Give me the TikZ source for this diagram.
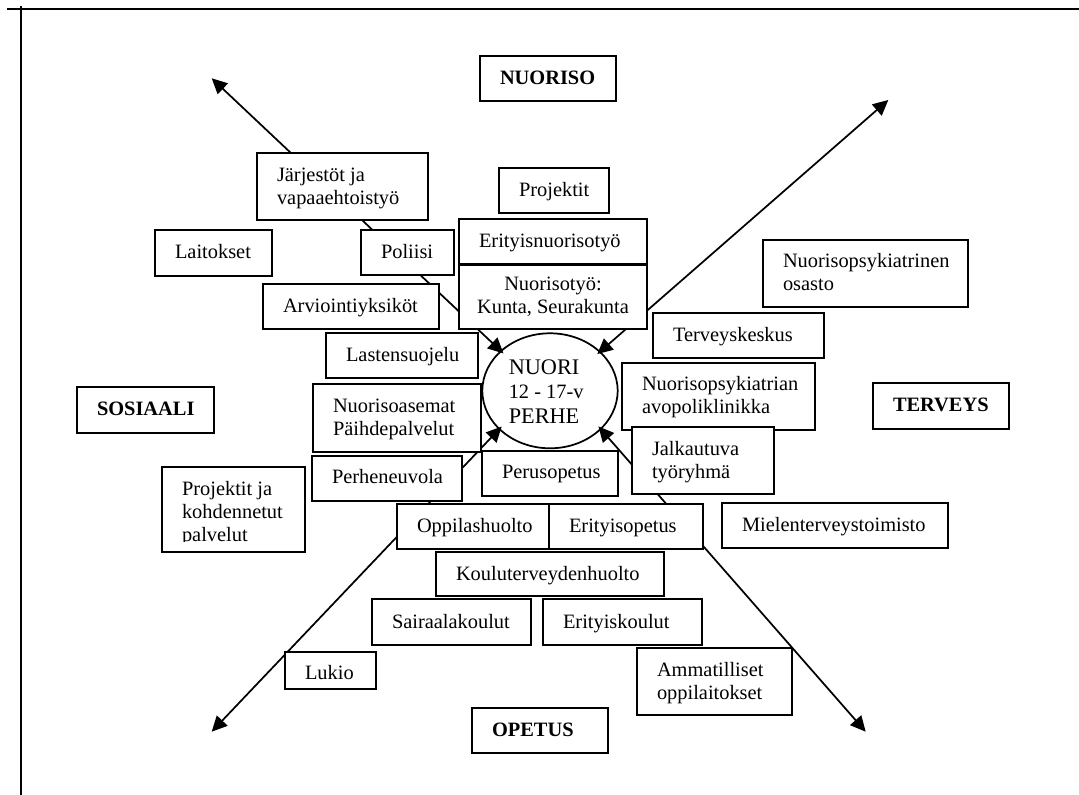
\documentclass[tikz,border=0pt]{standalone}
\usepackage{fontspec}
\setmainfont{Liberation Serif}
\usetikzlibrary{arrows.meta,shapes.geometric,fit}

% left- and centre-aligned text blocks whose baseline is the first line
\newcommand\txtl[1]{\begin{tabular}[t]{@{}l@{}}#1\end{tabular}}
\newcommand\txtc[1]{\begin{tabular}[t]{@{}c@{}}#1\end{tabular}}
% framed box given by two corners, with its text set in from the top left
\newcommand\infobox[5][28.5]{%
  \node[infobox, fit={#3 #4}] (#2) {};
  \node[boxtext] (#2-text) at ([shift={(20,#1)}]#2.north west) {\txtl{#5}};}

\begin{document}
\begin{tikzpicture}[
  x=0.75pt, y=-0.75pt,
  frame/.style={line width=1.5pt},
  infobox/.style={draw, fill=white, line width=1.5pt, inner sep=0pt, outer sep=0pt},
  boxtext/.style={anchor=base west, inner sep=0pt, outer sep=0pt,
                  font=\fontsize{15.3}{17.25}\selectfont},
  hub/.style={draw, ellipse, line width=1.3pt, minimum width=101.5pt,
              minimum height=86.25pt, inner sep=0pt, outer sep=0pt},
  link/.style={line width=1.3pt, shorten <=-2.5pt,
               {Triangle[length=11.5pt,width=11pt]}-{Triangle[length=11.5pt,width=11pt]}}
]
\useasboundingbox (0,0) rectangle (1079,795);

% page rules
\draw[frame] (7,9.3) -- (1079,9.3);
\draw[frame] (21.3,6) -- (21.3,795);

% the young person and family at the centre
\node[hub] (nuori) at (550,390.8) {};
\node[inner sep=0pt, anchor=base west, font=\fontsize{15.3}{18.5}\selectfont]
  (nuori-text) at ([shift={(-41.5,-16.5)}]nuori.center)
  {\txtl{\fontsize{16.7}{18.5}\selectfont NUORI\\ 12 - 17-v\\ \fontsize{16.7}{18.5}\selectfont PERHE}};

% the four sector axes
\coordinate (tip-ul) at (211.7,78.3);
\coordinate (tip-ur) at (888.3,100);
\coordinate (tip-ll) at (211.7,731.7);
\coordinate (tip-lr) at (865.7,731.7);
\draw[link] (nuori.141) -- (tip-ul);
\draw[link] (nuori.38) -- (tip-ur);
\draw[link] (nuori.217) -- (tip-ll);
\draw[link] (nuori.323) -- (tip-lr);

% sector headings
\infobox{nuoriso}{(480,56)}{(616,101)}{\textbf{NUORISO}}
\infobox{sosiaali}{(77,387)}{(214,433)}{\textbf{SOSIAALI}}
\infobox{terveys}{(873,383)}{(1009,429)}{\textbf{TERVEYS}}
\infobox{opetus}{(472,708)}{(608,753)}{\textbf{OPETUS}}

% youth work
\infobox{jarjestot}{(257,153)}{(428,220)}{Järjestöt ja\\vapaaehtoistyö}
\infobox{projektit}{(499,168)}{(609,213)}{Projektit}
\infobox{erityisnuoriso}{(459,219)}{(647,264)}{Erityisnuorisotyö}
\node[infobox, fit={(459,265) (647,329)}] (nuorisotyo) {};
\node[boxtext, anchor=base] (nuorisotyo-text) at ([shift={(0,25.7)}]nuorisotyo.north)
  {\txtc{Nuorisotyö:\\Kunta, Seurakunta}};

% social services
\infobox{laitokset}{(155,230)}{(272,276)}{Laitokset}
\infobox{poliisi}{(361,230)}{(454,275)}{Poliisi}
\infobox{arviointi}{(263,284)}{(439,329)}{Arviointiyksiköt}
\infobox{lastensuojelu}{(326,333)}{(478,378)}{Lastensuojelu}
\infobox{nuorisoasemat}{(313,384)}{(481,452)}{Nuorisoasemat\\Päihdepalvelut}
\infobox[27.5]{perheneuvola}{(312,456)}{(462,501)}{Perheneuvola}
\node[infobox, fit={(162,467) (305,552)}] (projektitja) {};
\begin{scope}
  \clip (projektitja.north west) rectangle ([shift={(0,-10.5)}]projektitja.south east);
  \node[boxtext] (projektitja-text) at ([shift={(20,28.5)}]projektitja.north west)
    {\txtl{Projektit ja\\kohdennetut\\palvelut}};
\end{scope}

% health care
\infobox[27.5]{nuorisopsyk}{(763,240)}{(968,307)}{Nuorisopsykiatrinen\\osasto}
\infobox{terveyskeskus}{(653,313)}{(824,358)}{Terveyskeskus}
\infobox[27.5]{avopoli}{(622,363)}{(815,430)}{Nuorisopsykiatrian\\avopoliklinikka}
\infobox[28]{jalkautuva}{(632,427)}{(774,494)}{Jalkautuva\\työryhmä}
\infobox[28]{mielenterveys}{(722,503)}{(948,548)}{Mielenterveystoimisto}

% schooling
\infobox[27.5]{perusopetus}{(482,451)}{(618,496)}{Perusopetus}
\infobox{oppilashuolto}{(397,504)}{(549,549)}{Oppilashuolto}
\infobox{erityisopetus}{(549,504)}{(703,549)}{Erityisopetus}
\infobox[28]{kouluterveys}{(436,552)}{(664,596)}{Kouluterveydenhuolto}
\infobox[29]{sairaalakoulut}{(372,599)}{(531,645)}{Sairaalakoulut}
\infobox[29]{erityiskoulut}{(543,599)}{(702,645)}{Erityiskoulut}
\infobox[27]{lukio}{(285,652)}{(376,689)}{Lukio}
\infobox{ammatilliset}{(637,648)}{(792,715)}{Ammatilliset\\oppilaitokset}
\end{tikzpicture}
\end{document}
